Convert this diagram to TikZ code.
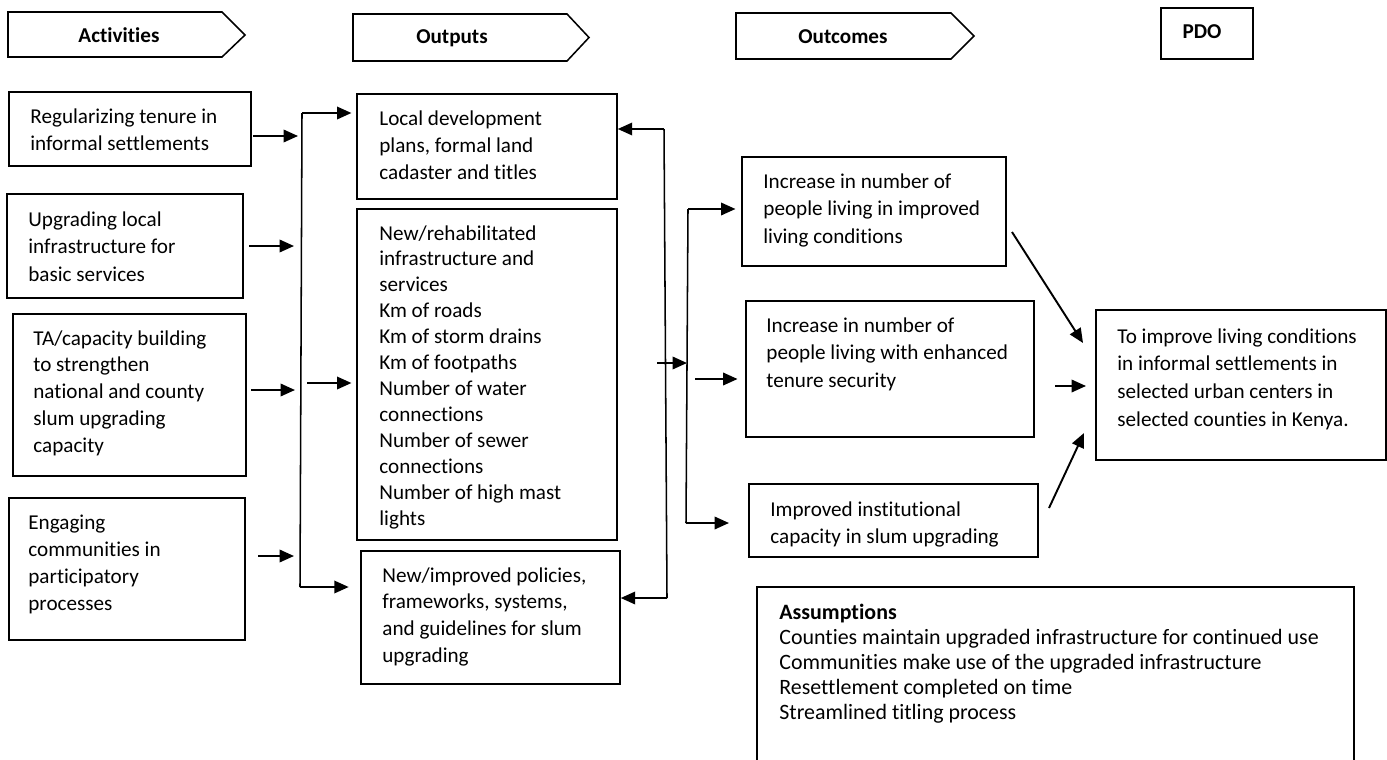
\documentclass[tikz,border=0pt]{standalone}
\usepackage{fontspec}
\setmainfont{Carlito}[Ligatures=CommonOff]
\usetikzlibrary{arrows.meta,fit}
\newcommand\tlines[1]{\begin{tabular}[t]{@{}l@{}}#1\end{tabular}}
\begin{document}
\begin{tikzpicture}[x=0.52pt,y=-0.52pt,
  box/.style={draw, line width=0.8pt, inner sep=0pt},
  ln/.style={line width=0.8pt},
  txt/.style={anchor=base west, inner sep=0pt, font=\fontsize{11}{14.5}\selectfont},
  htxt/.style={inner sep=0pt, font=\bfseries\fontsize{11}{13}\selectfont},
  arr/.style={line width=1pt, -{Triangle[length=7.5pt,width=6.5pt]}},
  brk/.style={line width=0.8pt}]
\fill[white] (0,0) rectangle (1387,759);
\useasboundingbox (0,0) rectangle (1387,759);

% headers
\draw[ln] (8,12) -- (222,12) -- (245,35) -- (222,57) -- (8,57) -- cycle;
\node[htxt] (hAct) at (119,35) {Activities};
\draw[ln] (353,14) -- (567,14) -- (589,37.5) -- (567,61) -- (353,61) -- cycle;
\node[htxt] (hOut) at (452,38) {Outputs};
\draw[ln] (736,13) -- (951,13) -- (974,36) -- (951,59) -- (736,59) -- cycle;
\node[htxt] (hOc) at (843,37) {Outcomes};
\node[box, fit={(1161,8) (1253,59)}] (pdo) {};
\node[htxt] (hPdo) at (1202,32) {PDO};

% activities
\node[box, fit={(9,92) (251,166)}] (a1) {};
\node[txt] (a1t) at (30,123) {\tlines{Regularizing tenure in\\informal settlements}};
\node[box, fit={(7,194) (243,298)}] (a2) {};
\node[txt] (a2t) at (28,226) {\tlines{Upgrading local\\infrastructure for\\basic services}};
\node[box, fit={(13,314) (246,476)}] (a3) {};
\node[txt, font=\fontsize{11}{14}\selectfont] (a3t) at (33,345) {\tlines{TA/capacity building\\to strengthen\\national and county\\slum upgrading\\capacity}};
\node[box, fit={(9,498) (245,640)}] (a4) {};
\node[txt, font=\fontsize{11}{14.2}\selectfont] (a4t) at (28,529) {\tlines{Engaging\\communities in\\participatory\\processes}};

% outputs
\node[box, fit={(357,94) (617,199)}] (o1) {};
\node[txt, font=\fontsize{11}{14.2}\selectfont] (o1t) at (379,125) {\tlines{Local development\\plans, formal land\\cadaster and titles}};
\node[box, fit={(357,209) (617,540)}] (o2) {};
\node[txt, font=\fontsize{11}{13.5}\selectfont] (o2t) at (379,240) {\tlines{New/rehabilitated\\infrastructure and\\services\\Km of roads\\Km of storm drains\\Km of footpaths\\Number of water\\connections\\Number of sewer\\connections\\Number of high mast\\lights}};
\node[box, fit={(361,551) (620,684)}] (o3) {};
\node[txt, font=\fontsize{11}{14}\selectfont] (o3t) at (382,582) {\tlines{New/improved policies,\\frameworks, systems,\\and guidelines for slum\\upgrading}};

% outcomes
\node[box, fit={(742,157) (1006,266)}] (c1) {};
\node[txt] (c1t) at (763,188) {\tlines{Increase in number of\\people living in improved\\living conditions}};
\node[box, fit={(746,301) (1034,437)}] (c2) {};
\node[txt] (c2t) at (766,332) {\tlines{Increase in number of\\people living with enhanced\\tenure security}};
\node[box, fit={(749,484) (1038,557)}] (c3) {};
\node[txt] (c3t) at (770,516) {\tlines{Improved institutional\\capacity in slum upgrading}};

% PDO goal
\node[box, fit={(1096,310) (1386,460)}] (goal) {};
\node[txt] (goalt) at (1117,343) {\tlines{To improve living conditions\\in informal settlements in\\selected urban centers in\\selected counties in Kenya.}};

% assumptions (box runs past the bottom edge)
\node[box, fit={(757,587) (1354,780)}] (asm) {};
\node[txt, font=\bfseries\fontsize{11.4}{13}\selectfont] (asmh) at (779,619) {Assumptions};
\node[txt, font=\fontsize{11.4}{13}\selectfont] (asmt) at (779,644) {\tlines{Counties maintain upgraded infrastructure for continued use\\Communities make use of the upgraded infrastructure\\Resettlement completed on time\\Streamlined titling process}};

% bracket 1: activities -> outputs
\coordinate (s1) at (253,136); \coordinate (e1) at (298,136);
\coordinate (s2) at (249,246); \coordinate (e2) at (294,246);
\coordinate (s3) at (251,390); \coordinate (e3) at (295,390);
\coordinate (s4) at (258,556); \coordinate (e4) at (294,556);
\draw[arr] (s1) -- (e1);
\draw[arr] (s2) -- (e2);
\draw[arr] (s3) -- (e3);
\draw[arr] (s4) -- (e4);
\coordinate (b1t) at (302,113); \coordinate (b1b) at (300,587); \coordinate (b1m) at (307,383);
\draw[brk] (b1t) -- (b1b);
\draw[arr] (b1t) -- ([xshift=-2.5pt]o1.west |- b1t);
\draw[arr] (b1m) -- ([xshift=-2.5pt]o2.west |- b1m);
\draw[arr] (b1b) -- ([xshift=-6pt]o3.west |- b1b);

% back bracket: outputs feedback
\coordinate (k1t) at (664,129); \coordinate (k1b) at (667,598);
\draw[brk] (k1t) -- (k1b);
\draw[arr] (k1t) -- (o1.east |- k1t);
\draw[arr] (k1b) -- (o3.east |- k1b);

% outputs -> bracket 2
\coordinate (m0) at (657,363); \coordinate (m1) at (687,363);
\draw[arr] (m0) -- (m1);
\coordinate (b2t) at (688,209); \coordinate (b2b) at (686,523); \coordinate (b2m) at (695,379);
\draw[brk] (b2t) -- (b2b);
\draw[arr] (b2t) -- ([xshift=-3pt]c1.west |- b2t);
\draw[arr] (b2m) -- ([xshift=-4pt]c2.west |- b2m);
\draw[arr] (b2b) -- ([xshift=-10pt]c3.west |- b2b);

% outcomes -> PDO
\coordinate (g1s) at (1012,232); \coordinate (g1e) at (1083,343);
\coordinate (g2s) at (1055,386); \coordinate (g2e) at (1086,386);
\coordinate (g3s) at (1049,508); \coordinate (g3e) at (1084,433);
\draw[arr] (g1s) -- (g1e);
\draw[arr] (g2s) -- (g2e);
\draw[arr] (g3s) -- (g3e);
\end{tikzpicture}
\end{document}
